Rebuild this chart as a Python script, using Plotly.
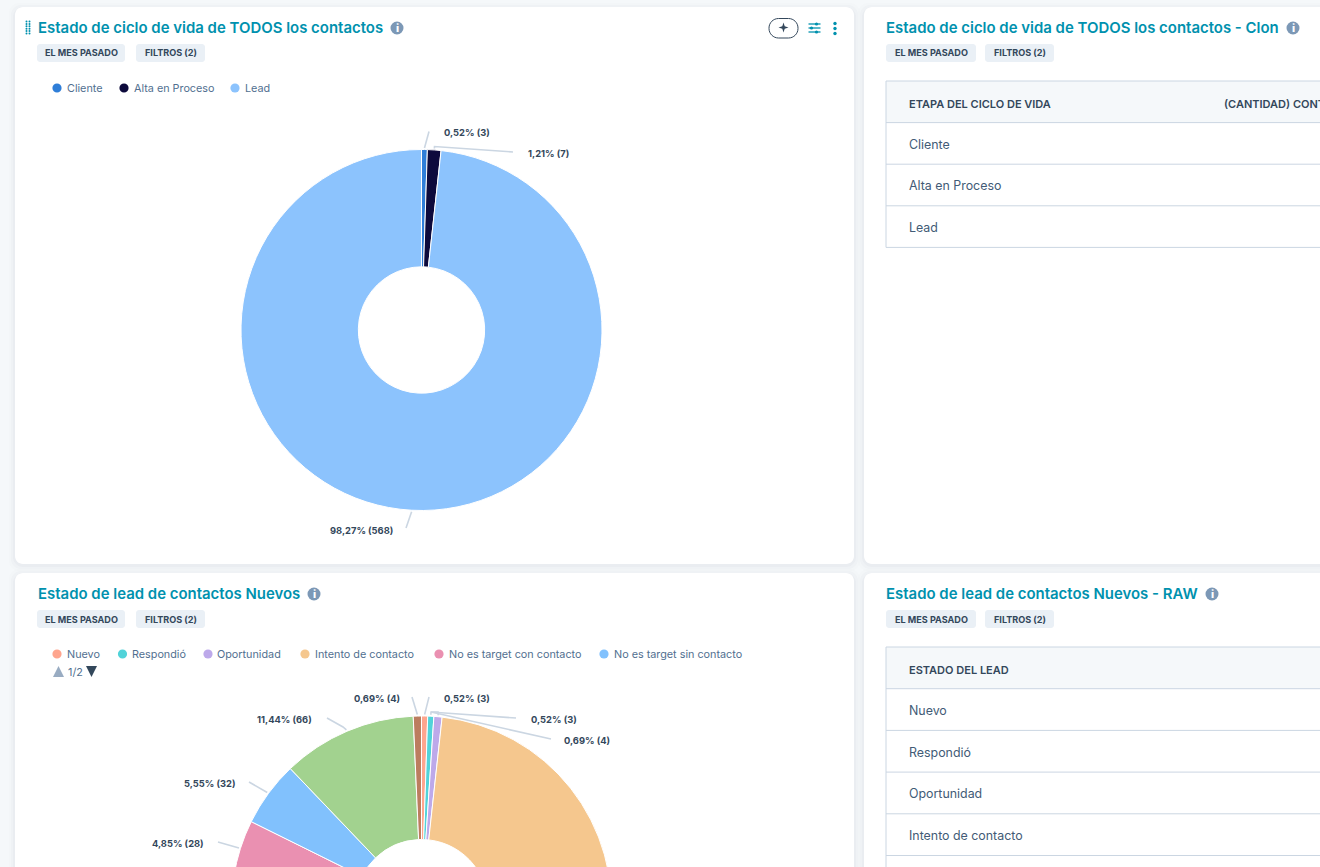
import math
import plotly.graph_objects as go

# ---- data ----
lifecycle_stages = ["Cliente", "Alta en Proceso", "Lead"]
lifecycle_counts = [3, 7, 568]
lifecycle_colors = ["#2f7ed8", "#0d0a3c", "#8cc3fd"]

lead_states = ["Nuevo", "Respondió", "Oportunidad", "Intento de contacto",
               "No es target con contacto", "No es target sin contacto",
               "Calificado", "Descartado"]
lead_counts = [3, 3, 4, 437, 28, 32, 66, 4]
lead_colors = ["#fea58e", "#51d3d9", "#bda9ea", "#f5c78e",
               "#ea90b1", "#81c1fd", "#a2d28f", "#bc7d5f"]

lifecycle_header = ["ETAPA DEL CICLO DE VIDA", "(CANTIDAD) CONTACTOS"]
lead_header = ["ESTADO DEL LEAD"]

# ---- canvas: taller than the window so the lower donut runs past the fold ----
W, H = 1320, 1120
FONT = "Inter, 'Open Sans', sans-serif"
TEAL, INK, SOFT = "#0091ae", "#33475b", "#516f90"
RULE, CHIP, ICON = "#cbd6e2", "#eaf0f6", "#7c98b6"

px = lambda x: x / W
py = lambda y: 1 - y / H

shapes, notes = [], []


def path_shape(d, layer="below", **kw):
    shapes.append(dict(type="path", path=d, xref="paper", yref="paper", layer=layer,
                       line=kw.get("line", dict(width=0)),
                       fillcolor=kw.get("fill", "rgba(0,0,0,0)")))


def rounded(x0, y0, x1, y1, r):
    c = 0.45 * r
    pts = [
        ("M", x0 + r, y0), ("L", x1 - r, y0),
        ("C", x1 - c, y0, x1, y0 + c, x1, y0 + r), ("L", x1, y1 - r),
        ("C", x1, y1 - c, x1 - c, y1, x1 - r, y1), ("L", x0 + r, y1),
        ("C", x0 + c, y1, x0, y1 - c, x0, y1 - r), ("L", x0, y0 + r),
        ("C", x0, y0 + c, x0 + c, y0, x0 + r, y0),
    ]
    out = []
    for p in pts:
        nums = p[1:]
        xy = " ".join(f"{px(nums[i]):.5f},{py(nums[i + 1]):.5f}" for i in range(0, len(nums), 2))
        out.append(f"{p[0]} {xy}")
    return " ".join(out) + " Z"


def box(x0, y0, x1, y1, r, fill, line=None):
    path_shape(rounded(x0, y0, x1, y1, r), fill=fill,
               line=line or dict(width=0))


def seg(x0, y0, x1, y1, color=RULE, width=1, layer="below"):
    shapes.append(dict(type="line", xref="paper", yref="paper", layer=layer,
                       x0=px(x0), y0=py(y0), x1=px(x1), y1=py(y1),
                       line=dict(color=color, width=width)))


def dot(x, y, r, color, layer="below"):
    shapes.append(dict(type="circle", xref="paper", yref="paper", layer=layer,
                       x0=px(x - r), x1=px(x + r), y0=py(y - r), y1=py(y + r),
                       fillcolor=color, line=dict(width=0)))


def text(x, y, s, size=11, color=INK, anchor="left", weight=400):
    notes.append(dict(xref="paper", yref="paper", x=px(x), y=py(y), text=s, showarrow=False,
                      xanchor=anchor, yanchor="middle", borderpad=0,
                      font=dict(family=FONT, size=size, color=color, weight=weight)))


def card(x0, y0, x1, y1):
    for grow, alpha in ((6, 0.012), (4, 0.018), (2, 0.025)):
        box(x0 - grow, y0 - grow + 2, x1 + grow, y1 + grow + 1, 10, f"rgba(45,62,80,{alpha})")
    box(x0, y0, x1, y1, 8, "#ffffff")


def heading(x, y, title, title_end, chips):
    text(x - 1, y + 0.5, title, size=14.95, color=TEAL, weight=600)
    icon_x = title_end
    dot(icon_x, y, 6.5, ICON)
    text(icon_x, y, "i", size=11, color="#ffffff", anchor="center", weight=800)
    for (cx0, cx1), label in zip(chips, ("EL MES PASADO", "FILTROS (2)")):
        box(cx0, y + 16, cx1, y + 34, 3, CHIP)
        text((cx0 + cx1) / 2, y + 25, label, size=9.1, color=INK, anchor="center", weight=700)


def legend(entries, y):
    for (dot_x, label, color) in entries:
        dot(dot_x, y, 4.6, color)
        text(dot_x + 8.5, y + 0.8, label, size=10.8, color=SOFT)


def data_table(x0, y0, row_h, header, rows, labelled):
    # header band, row rules and the labels of the rows above the fold
    bottom = y0 + row_h * (len(rows) + 1)
    shapes.append(dict(type="rect", xref="paper", yref="paper", layer="below",
                       x0=px(x0), x1=px(W + 5), y0=py(y0), y1=py(y0 + row_h),
                       fillcolor="#f5f8fa", line=dict(width=0)))
    seg(x0, y0, x0, bottom)
    for i in range(len(rows) + 2):
        seg(x0, y0 + i * row_h, W + 5, y0 + i * row_h)
    text(x0 + 21.5, y0 + row_h / 2 + 2, header[0], size=11, weight=600)
    if len(header) > 1:
        text(x0 + 337, y0 + row_h / 2 + 2, header[1], size=11, weight=600)
    for i, name in enumerate(rows[:labelled]):
        text(x0 + 21.5, y0 + row_h * (i + 1.5) + 1, name, size=12.4, color="#425b76")


def slice_point(values, index, cx, cy, r):
    # point on the rim at the middle of a slice; slices run clockwise from twelve o'clock
    total = sum(values)
    mid = (sum(values[:index]) + values[index] / 2) / total * 2 * math.pi
    return cx + r * math.sin(mid), cy - r * math.cos(mid)


def callouts(values, cx, cy, r, routes):
    # one leader per labelled slice, running from the slice rim out to its label
    total = sum(values)
    for i, (via, label_x, label_y, anchor) in routes.items():
        sx, sy = slice_point(values, i, cx, cy, r + 1.5)
        pts = [(sx, sy)] + via
        d = "M " + " L ".join(f"{px(a):.5f},{py(b):.5f}" for a, b in pts)
        path_shape(d, layer="above", line=dict(color=RULE, width=1.6))
        pct = f"{values[i] / total * 100:.2f}".replace(".", ",")
        text(label_x, label_y, f"{pct}% ({values[i]})", size=9.35, color=INK, anchor=anchor, weight=700)


# ---- page cards ----
card(15, 7, 854, 564)
card(864, 7, W + 40, 564)
card(15, 573, 854, H + 40)
card(864, 573, W + 40, H + 40)

# ---- headings ----
heading(38, 28, "Estado de ciclo de vida de TODOS los contactos", 397, [(37, 125), (136, 205)])
heading(886, 28, "Estado de ciclo de vida de TODOS los contactos - Clon", 1293, [(886, 976), (985, 1054)])
heading(38, 594, "Estado de lead de contactos Nuevos", 314, [(37, 125), (136, 205)])
heading(886, 594, "Estado de lead de contactos Nuevos - RAW", 1212, [(886, 976), (985, 1054)])

# drag handle beside the first title
for col in (0, 1):
    for row in range(6):
        dot(26.5 + col * 3, 21.5 + row * 2.4, 1, TEAL)

# action buttons in the first card
box(769, 18.5, 798, 38, 9.5, "#ffffff", line=dict(color=INK, width=1))
sx, sy = 783.5, 27.5
star = [(sx, sy - 5), (sx + 1.2, sy - 1.2), (sx + 5, sy), (sx + 1.2, sy + 1.2),
        (sx, sy + 5), (sx - 1.2, sy + 1.2), (sx - 5, sy), (sx - 1.2, sy - 1.2)]
path_shape("M " + " L ".join(f"{px(a):.5f},{py(b):.5f}" for a, b in star) + " Z", fill=INK)
for k, knob in enumerate((816.5, 811.5, 816.5)):
    level = 24 + k * 4
    seg(808.5, level, 820.5, level, TEAL, 1.3)
    dot(knob, level, 1.6, TEAL)
for level in (23.5, 28.5, 33.5):
    dot(835, level, 1.7, TEAL)

# ---- legends ----
legend([(57, lifecycle_stages[0], lifecycle_colors[0]),
        (124, lifecycle_stages[1], lifecycle_colors[1]),
        (235, lifecycle_stages[2], lifecycle_colors[2])], 88)
legend([(x, lead_states[i], lead_colors[i]) for i, x in enumerate((57, 122.5, 208, 305, 439, 604))], 654)
path_shape(f"M {px(53)},{py(677)} L {px(64)},{py(677)} L {px(58.5)},{py(666)} Z", fill="#99acc2")
text(66.5, 672, "1/2", size=10.8, color=SOFT)
path_shape(f"M {px(86)},{py(666)} L {px(97)},{py(666)} L {px(91.5)},{py(677)} Z", fill=INK)

# ---- tables ----
data_table(886, 81, 41.6, lifecycle_header, lifecycle_stages, 3)
data_table(886, 647, 41.7, lead_header, lead_states[:6], 4)


# ---- donuts ----
def donut(labels, values, colors, cx, cy, r):
    return go.Pie(labels=labels, values=values, hole=0.35, sort=False, direction="clockwise",
                  rotation=0, textinfo="none", showlegend=False,
                  marker=dict(colors=colors, line=dict(color="#ffffff", width=1)),
                  domain=dict(x=[px(cx - r), px(cx + r)], y=[py(cy + r), py(cy - r)]))


TOP = (421.5, 330, 180.5)
LOW = (421.5, 906, 190)

callouts(lifecycle_counts, *TOP, {
    0: ([(429, 131.5)], 442.5, 132.5, "left"),
    1: ([(434.5, 146.5), (513, 152)], 526.5, 153.5, "left"),
    2: ([(406, 528)], 394, 530.5, "right"),
})
callouts(lead_counts, *LOW, {
    7: ([(412, 697)], 400.5, 698.5, "right"),
    0: ([(429, 697)], 442.5, 698.5, "left"),
    1: ([(431, 712), (516, 718)], 529.5, 719.5, "left"),
    2: ([(438, 712), (431, 712), (551, 739)], 562.5, 740.5, "left"),
    6: ([(343, 727), (327, 718)], 312.5, 719.5, "right"),
    5: ([(249, 782)], 235.5, 783.5, "right"),
    4: ([(218, 842)], 204.5, 843.5, "right"),
})

fig = go.Figure([donut(lifecycle_stages, lifecycle_counts, lifecycle_colors, *TOP),
                 donut(lead_states, lead_counts, lead_colors, *LOW)])
fig.update_layout(width=W, height=H, margin=dict(l=0, r=0, t=0, b=0), autosize=False,
                  paper_bgcolor="#f5f8fa", plot_bgcolor="#f5f8fa",
                  shapes=shapes, annotations=notes, showlegend=False,
                  hovermode=False)
fig.write_html("out.html", config=dict(displayModeBar=False),
               post_script="document.documentElement.style.overflow='hidden';"
                           "document.body.style.overflow='hidden';document.body.style.margin='0';")
